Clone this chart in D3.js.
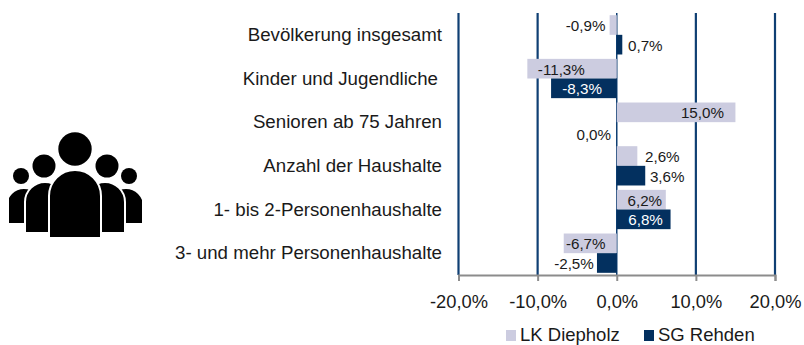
<!DOCTYPE html>
<html lang="de">
<head>
<meta charset="utf-8">
<title>Bevölkerung</title>
<script src="https://cdn.jsdelivr.net/npm/d3@7"></script>
<style>
    html, body { margin: 0; padding: 0; background: #fff; }
    svg { display: block; }
    text { font-family: "Liberation Sans", Arial, sans-serif; fill: #1a1a1a; }
</style>
</head>
<body>
<div id="chart"></div>
<script>
// Daten
const categories = [
    "Bevölkerung insgesamt",
    "Kinder und Jugendliche",
    "Senioren ab 75 Jahren",
    "Anzahl der Haushalte",
    "1- bis 2-Personenhaushalte",
    "3- und mehr Personenhaushalte"
];
const seriesNames = ["LK Diepholz", "SG Rehden"];
const lkDiepholz = [-0.9, -11.3, 15.0, 2.6, 6.2, -6.7];
const sgRehden = [0.7, -8.3, 0.0, 3.6, 6.8, -2.5];
const xTicks = [-20, -10, 0, 10, 20];

// Versatz der Wertebeschriftung gegenüber dem Balkenende (px)
const lkLabelDx = [-24, 34, -33, 25, -21, 22];
const sgLabelDx = [23, 31, -23, 22, -25, -23];

const colors = ["#cccce0", "#03305f"];
const gridColor = "#0f3f73";

const width = 804, height = 345;
const svg = d3.select("#chart").append("svg")
    .attr("width", width)
    .attr("height", height);

const x = d3.scaleLinear().domain([-20, 20]).range([458.5, 775]);
const y0 = d3.scaleBand().domain(categories).range([13, 275]).paddingInner(0.1).paddingOuter(0.05);
const y1 = d3.scaleBand().domain(seriesNames).range([0, y0.bandwidth()]);

const de = d3.formatLocale({ decimal: ",", thousands: ".", grouping: [3], currency: ["", "€"], minus: "-" });
const pct = v => de.format(".1f")(v) + "%";

// Gitterlinien
svg.append("g").selectAll("line")
    .data(xTicks)
    .enter()
    .append("line")
    .attr("x1", d => x(d))
    .attr("x2", d => x(d))
    .attr("y1", 13)
    .attr("y2", 275)
    .attr("stroke", gridColor)
    .attr("stroke-width", d => d === 0 ? 1.5 : 2.2);

// Balken
const series = [lkDiepholz, sgRehden];
series.forEach((values, s) => {
    const name = seriesNames[s];
    svg.append("g").selectAll("rect")
        .data(values)
        .enter()
        .append("rect")
        .attr("x", d => Math.min(x(d), x(0)))
        .attr("y", (d, i) => y0(categories[i]) + y1(name))
        .attr("width", d => Math.abs(x(d) - x(0)))
        .attr("height", y1.bandwidth())
        .attr("fill", colors[s]);
});

// Achse
const xAxis = svg.append("g")
    .attr("transform", "translate(0,275)")
    .call(d3.axisBottom(x).tickValues(xTicks).tickFormat(pct).tickSize(6).tickPadding(14));
xAxis.selectAll("path, line").attr("stroke", "#8c8c8c").attr("stroke-width", 2);
xAxis.selectAll("text").attr("font-size", 18.3).style("fill", "#1a1a1a").style("font-family", "'Liberation Sans', Arial, sans-serif");

// Kategorien
svg.append("g").selectAll("text")
    .data(categories)
    .enter()
    .append("text")
    .attr("x", (d, i) => i === 1 ? 438 : 442)
    .attr("y", d => y0(d) + y0.bandwidth() / 2 + 6)
    .attr("text-anchor", "end")
    .attr("font-size", 18.7)
    .text(d => d);

// Wertebeschriftung
const labelDx = [lkLabelDx, sgLabelDx];
series.forEach((values, s) => {
    const name = seriesNames[s];
    svg.append("g").selectAll("text")
        .data(values)
        .enter()
        .append("text")
        .attr("x", (d, i) => x(d) + labelDx[s][i])
        .attr("y", (d, i) => y0(categories[i]) + y1(name) + y1.bandwidth() / 2 + (d === 0 ? 8 : 6))
        .attr("text-anchor", "middle")
        .attr("font-size", 15.2)
        .style("fill", (d, i) => s === 1 && (i === 1 || i === 4) ? "#fff" : "#1a1a1a")
        .text(d => pct(d));
});

// Legende
const legendX = [506, 644];
const legend = svg.append("g").selectAll("g")
    .data(seriesNames)
    .enter()
    .append("g")
    .attr("transform", (d, i) => `translate(${legendX[i]},330)`);
legend.append("rect")
    .attr("width", 10)
    .attr("height", 11)
    .attr("fill", (d, i) => colors[i]);
legend.append("text")
    .attr("x", 14)
    .attr("y", 11)
    .attr("font-size", 18.5)
    .text(d => d);

// Personen-Icon
const icon = svg.append("g");
icon.append("clipPath").attr("id", "icon-clip")
    .append("rect").attr("x", 9).attr("y", 120).attr("width", 133).attr("height", 120);
const people = icon.append("g").attr("clip-path", "url(#icon-clip)");
const body = (cx, hw, top, bottom) =>
    `M${cx - hw},${bottom}V${top + hw}A${hw},${hw} 0 0 1 ${cx + hw},${top + hw}V${bottom}Z`;
[[24, 18, 188, 224], [126, 18, 188, 224], [45, 20, 182, 233], [105, 20, 182, 233], [75, 26, 170, 238]]
    .forEach(b => {
        people.append("path")
            .attr("d", body(b[0], b[1], b[2], b[3]))
            .attr("fill", "#000")
            .attr("stroke", "#fff")
            .attr("stroke-width", 2);
    });
[[21, 176, 8], [129, 176, 8], [44, 166, 11.5], [107, 166, 11.5], [75, 149, 16.7]]
    .forEach(h => {
        people.append("circle")
            .attr("cx", h[0])
            .attr("cy", h[1])
            .attr("r", h[2])
            .attr("fill", "#000");
    });
</script>
</body>
</html>
